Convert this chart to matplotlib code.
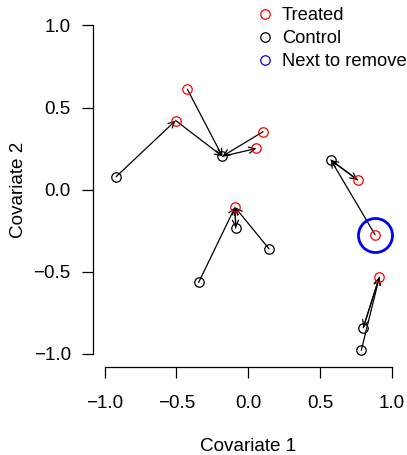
import matplotlib
matplotlib.use("Agg")
import matplotlib.pyplot as plt
from matplotlib.lines import Line2D

plt.rcParams['font.family'] = ['Liberation Sans', 'DejaVu Sans']

# Data
treated_x = [-0.505, -0.424, 0.103, 0.057, 0.761, 0.882, -0.092, 0.912]
treated_y = [0.421, 0.612, 0.353, 0.251, 0.059, -0.274, -0.107, -0.533]
control_x = [-0.919, -0.180, 0.575, -0.087, 0.145, -0.345, 0.800, 0.786]
control_y = [0.079, 0.203, 0.180, -0.233, -0.361, -0.565, -0.841, -0.979]
# arrows from treated i to control j
t_to_c = [(0, 1), (1, 1), (2, 1), (4, 2), (5, 2), (6, 3), (7, 6)]
# arrows from control j to treated i
c_to_t = [(0, 0), (1, 3), (2, 4), (5, 6), (4, 6), (3, 6), (7, 7), (6, 7)]
next_to_remove = 5
ticks = [-1.0, -0.5, 0.0, 0.5, 1.0]
tick_labels = ['\u22121.0', '\u22120.5', '0.0', '0.5', '1.0']
legend_labels = ['Treated', 'Control', 'Next to remove']
legend_colors = ['red', 'black', 'blue']

W, H = 407, 455
fig = plt.figure(figsize=(W / 100, H / 100), dpi=100)
ax = fig.add_axes([93 / W, 1 - 367 / H, 310.5 / W, 354.7 / H])
ax.set_xlim(-1.08, 1.08)
ax.set_ylim(-1.08, 1.08)

FS = 13.6
arrowprops = dict(arrowstyle='->,head_length=0.45,head_width=0.22',
                  shrinkA=0, shrinkB=0, lw=0.9, color='black')
for i, j in t_to_c:
    ax.annotate('', xy=(control_x[j], control_y[j]),
                xytext=(treated_x[i], treated_y[i]), arrowprops=arrowprops)
for j, i in c_to_t:
    ax.annotate('', xy=(treated_x[i], treated_y[i]),
                xytext=(control_x[j], control_y[j]), arrowprops=arrowprops)

ax.plot(treated_x, treated_y, 'o', mfc='none', mec='red', ms=6.8, mew=0.9, zorder=3)
ax.plot(control_x, control_y, 'o', mfc='none', mec='black', ms=6.8, mew=0.9, zorder=3)
ax.plot([treated_x[next_to_remove]], [treated_y[next_to_remove]], 'o', mfc='none',
        mec='blue', ms=24.5, mew=2.0, zorder=4)

for s in ['top', 'right']:
    ax.spines[s].set_visible(False)
ax.spines['left'].set_bounds(-1, 1)
ax.spines['bottom'].set_bounds(-1, 1)
for s in ['left', 'bottom']:
    ax.spines[s].set_linewidth(0.9)
ax.set_xticks(ticks)
ax.set_xticklabels(tick_labels)
ax.set_yticks(ticks)
ax.set_yticklabels(tick_labels)
ax.tick_params(axis='both', length=8, width=0.9, labelsize=FS)
ax.tick_params(axis='x', pad=12.5)
ax.tick_params(axis='y', pad=8)

ax.set_xlabel('Covariate 1', fontsize=FS)
ax.set_ylabel('Covariate 2', fontsize=FS)
ax.xaxis.set_label_coords(0.5, (367 - 438) / 354.7)
ax.yaxis.set_label_coords((27 - 93) / 310.5, 0.5)

handles = [Line2D([], [], ls='none', marker='o', mfc='none', mec=c, ms=6.8, mew=0.9)
           for c in legend_colors]
fig.legend(handles, legend_labels, loc='upper left',
           bbox_to_anchor=(256 / W, 1 - 7 / H), frameon=False, fontsize=13.2,
           borderpad=0, borderaxespad=0, handlelength=0.97, handletextpad=0.45,
           labelspacing=0.33)

fig.savefig('out.png', dpi=100)
